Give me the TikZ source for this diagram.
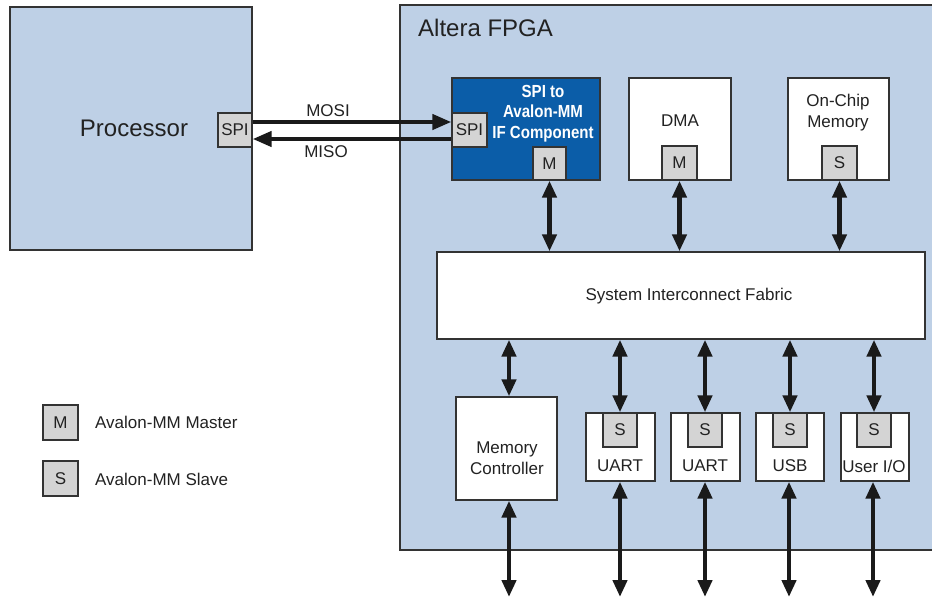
\documentclass[tikz,border=0pt]{standalone}
\usepackage{fontspec}
\setmainfont{Liberation Sans}
\newfontfamily\condfont[FakeStretch=0.86]{Liberation Sans Bold}
\usetikzlibrary{arrows.meta}
\definecolor{lblue}{HTML}{BED0E6}
\definecolor{dblue}{HTML}{0B5DA8}
\definecolor{pgray}{HTML}{D4D4D4}
\definecolor{bcol}{HTML}{333333}
\definecolor{tcol}{HTML}{222222}
\definecolor{acol}{HTML}{1A1A1A}
\tikzset{
  box/.style={draw=bcol, line width=1.3pt, fill=white, inner sep=0pt},
  port/.style={draw=bcol, line width=1.3pt, fill=pgray, inner sep=0pt,
    minimum width=34pt, minimum height=34pt, text=tcol, font=\fontsize{17}{20}\selectfont},
  lbl/.style={inner sep=0pt, text=tcol, align=center, font=\fontsize{17}{21}\selectfont},
  arr/.style={draw=acol, line width=4.4pt,
    {Triangle[length=17pt,width=14pt]}-{Triangle[length=17pt,width=14pt]}},
  arrR/.style={draw=acol, line width=4.2pt, -{Triangle[length=19pt,width=15pt]}},
  arrL/.style={draw=acol, line width=4.2pt, {Triangle[length=19pt,width=15pt]}-},
}
\begin{document}
\begin{tikzpicture}[x=1pt,y=-1pt]
\useasboundingbox (0,0) rectangle (932,600);
\fill[white] (0,0) rectangle (932,600);
% FPGA container
\fill[lblue] (400,5) rectangle (932,550);
\draw[bcol, line width=1.5pt] (932,5) -- (400,5) -- (400,550) -- (932,550);
\node[lbl, anchor=west, font=\fontsize{24}{28}\selectfont] (fpgalbl) at (418,28) {Altera FPGA};
% Processor
\node[box, fill=lblue, minimum width=242pt, minimum height=243pt] (proc) at (131,128.5) {};
\node[lbl, font=\fontsize{24}{28}\selectfont] (proclbl) at (134,128) {Processor};
\node[port] (pspi) at (235,130) {SPI};
% SPI component
\node[box, fill=dblue, minimum width=148pt, minimum height=102pt] (comp) at (526,129) {};
\node[inner sep=0pt, text=white, align=center, font=\condfont\fontsize{17.5}{20.5}\selectfont] (complbl) at (543,113.5) {SPI to\\Avalon-MM\\IF Component};
\node[port, minimum width=35pt] (cspi) at (469.5,130) {SPI};
\node[port, minimum width=33pt, minimum height=33pt] (cm) at (549.5,163.5) {M};
% DMA
\node[box, minimum width=102pt, minimum height=102pt] (dma) at (680,129) {};
\node[lbl] (dmalbl) at (680,121) {DMA};
\node[port, minimum width=35pt] (dmam) at (679.5,163) {M};
% On-chip memory
\node[box, minimum width=101pt, minimum height=102pt] (ocm) at (838.5,129) {};
\node[lbl] (ocmlbl) at (838,112.5) {On-Chip\\Memory};
\node[port, minimum width=35pt] (ocms) at (839.5,163) {S};
% Fabric
\node[box, minimum width=488pt, minimum height=87pt] (fab) at (681,295.5) {};
\node[lbl] (fablbl) at (689,296) {System Interconnect Fabric};
% Memory controller
\node[box, minimum width=101pt, minimum height=103pt] (mc) at (506.5,448.5) {};
\node[lbl] (mclbl) at (507,458.5) {Memory\\Controller};
% Peripherals
\node[box, minimum width=69pt, minimum height=68pt] (u1) at (620.5,447) {};
\node[port] (u1s) at (620,430) {S};
\node[lbl] (u1lbl) at (620,466) {UART};
\node[box, minimum width=69pt, minimum height=68pt] (u2) at (705.5,447) {};
\node[port] (u2s) at (705,430) {S};
\node[lbl] (u2lbl) at (705,466) {UART};
\node[box, minimum width=68pt, minimum height=68pt] (usb) at (790,447) {};
\node[port] (usbs) at (790,430) {S};
\node[lbl] (usblbl) at (790,466) {USB};
\node[box, minimum width=68pt, minimum height=68pt] (uio) at (875,447) {};
\node[port] (uios) at (874,430) {S};
\node[lbl] (uiolbl) at (874,466) {User I/O};
% Legend
\node[port, minimum width=35pt, minimum height=35pt] (legm) at (60.5,422.5) {M};
\node[lbl, anchor=west] (legmlbl) at (95,422) {Avalon-MM Master};
\node[port, minimum width=35pt, minimum height=35pt] (legs) at (60.5,478.5) {S};
\node[lbl, anchor=west] (legslbl) at (95,479) {Avalon-MM Slave};
% MOSI / MISO
\draw[arrR] ([yshift=8pt]pspi.east) -- ([yshift=8pt]cspi.west);
\draw[arrL] ([yshift=-9pt]pspi.east) -- ([yshift=-9pt]cspi.west);
\node[lbl] (mosi) at (328,111) {MOSI};
\node[lbl] (miso) at (326,152) {MISO};
% Top arrows
\draw[arr] (cm.south) -- (cm.south |- fab.north);
\draw[arr] (dmam.south) -- (dmam.south |- fab.north);
\draw[arr] (ocms.south) -- (ocms.south |- fab.north);
% Bottom arrows from fabric
\coordinate (mcx) at (509,0);
\draw[arr] (fab.south -| mcx) -- (mc.north -| mcx);
\draw[arr] (fab.south -| u1s.north) -- (u1s.north);
\draw[arr] (fab.south -| u2s.north) -- (u2s.north);
\draw[arr] (fab.south -| usbs.north) -- (usbs.north);
\draw[arr] (fab.south -| uios.north) -- (uios.north);
% Outgoing arrows
\coordinate (e0) at (509,597);
\coordinate (e1) at (620,597);
\coordinate (e2) at (705,597);
\coordinate (e3) at (789,597);
\coordinate (e4) at (873,597);
\draw[arr] (mc.south -| e0) -- (e0);
\draw[arr] (u1.south -| e1) -- (e1);
\draw[arr] (u2.south -| e2) -- (e2);
\draw[arr] (usb.south -| e3) -- (e3);
\draw[arr] (uio.south -| e4) -- (e4);
\end{tikzpicture}
\end{document}
